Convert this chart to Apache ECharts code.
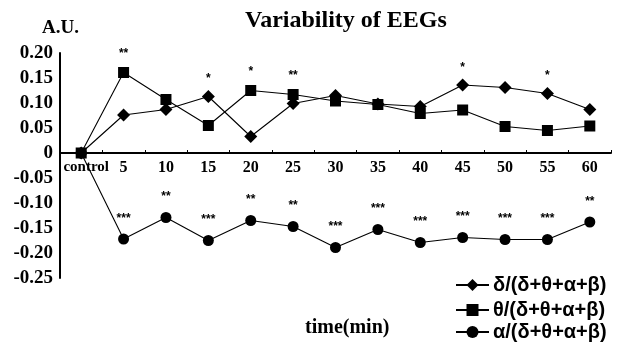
<!DOCTYPE html>
<html><head><meta charset="utf-8">
<script src="https://cdn.jsdelivr.net/npm/echarts@6/dist/echarts.min.js"></script>
<style>html,body{margin:0;padding:0;background:#fff}#c{width:617px;height:342px}</style>
</head><body><div id="c"></div>
<script>
const categories = ['control','5','10','15','20','25','30','35','40','45','50','55','60'];
const deltaVals = [0,0.076,0.087,0.113,0.033,0.099,0.115,0.098,0.093,0.136,0.131,0.119,0.087];
const thetaVals = [0,0.161,0.107,0.055,0.125,0.117,0.104,0.097,0.079,0.086,0.053,0.045,0.054];
const alphaVals = [0,-0.172,-0.129,-0.175,-0.135,-0.147,-0.189,-0.153,-0.179,-0.169,-0.173,-0.173,-0.138];
const deltaStars = ['','','','*','','','','','','*','','*',''];
const thetaStars = ['','**','','','*','**','','','','','','',''];
const alphaStars = ['','***','**','***','**','**','***','***','***','***','***','***','**'];
const names = ['δ/(δ+θ+α+β)','θ/(δ+θ+α+β)','α/(δ+θ+α+β)'];
const yTicks = {min:-0.25, max:0.20, step:0.05};

const serif = '"Liberation Serif", "DejaVu Serif", serif';
const sans = '"Liberation Sans", Arial, sans-serif';
function mk(name, data, stars, symbol, size, dist) {
  return {
    name, type:'line', data, symbol, symbolSize:size,
    lineStyle:{color:'#000', width:1.1},
    itemStyle:{color:'#000'},
    label:{show:true, position:'top', distance:dist, color:'#000', fontSize:12, fontFamily:sans, fontWeight:'bold',
      formatter: p => stars[p.dataIndex]},
    emphasis:{disabled:true}, animation:false
  };
}
const legTop = [270, 295, 317];
const legends = names.map((n, i) => ({
  orient:'vertical', left:450, top:legTop[i], itemWidth:33, itemHeight:15, itemGap:0,
  data:[n], selectedMode:false,
  textStyle:{fontFamily:sans, fontWeight:'bold', fontSize:20, color:'#000', padding:[0,0,0,-1]}
}));
const chart = echarts.init(document.getElementById('c'));
chart.setOption({
  backgroundColor:'#fff',
  animation:false,
  title:{text:'Variability of EEGs', left:240, top:4,
    textStyle:{fontFamily:serif, fontWeight:'bold', fontSize:24, color:'#000'}},
  graphic:[
    {type:'text', left:42, top:19, style:{text:'A.U.', font:'bold 19px '+serif, fill:'#000'}},
    {type:'text', left:305, top:318, style:{text:'time(min)', font:'bold 20px '+serif, fill:'#000'}}
  ],
  legend:legends,
  grid:{left:60, right:6, top:53, bottom:64, containLabel:false},
  xAxis:{type:'category', data:categories, boundaryGap:true, offset:-125,
    axisLine:{onZero:false, lineStyle:{color:'#000', width:2}},
    axisTick:{show:true, inside:true, length:3, lineStyle:{color:'#000'}},
    axisLabel:{interval:0, margin:7, color:'#000', fontFamily:serif, fontWeight:'bold', fontSize:16,
      formatter: v => v === 'control' ? '{c|' + v + '}' : v,
      rich:{c:{fontFamily:serif, fontWeight:'bold', fontSize:15, color:'#000', padding:[0,0,0,10]}}},
    splitLine:{show:false}},
  yAxis:{type:'value', min:yTicks.min, max:yTicks.max, interval:yTicks.step,
    axisLine:{show:true, lineStyle:{color:'#000', width:2}},
    axisTick:{show:false},
    splitLine:{show:false},
    axisLabel:{margin:7, color:'#000', fontFamily:serif, fontWeight:'bold', fontSize:19,
      formatter: v => Math.abs(v) < 1e-9 ? '0' : v.toFixed(2)}},
  series:[
    mk(names[2], alphaVals, alphaStars, 'circle', 11, 9),
    mk(names[0], deltaVals, deltaStars, 'diamond', 13, 5),
    mk(names[1], thetaVals, thetaStars, 'rect', 11, 7)
  ]
});
</script></body></html>
